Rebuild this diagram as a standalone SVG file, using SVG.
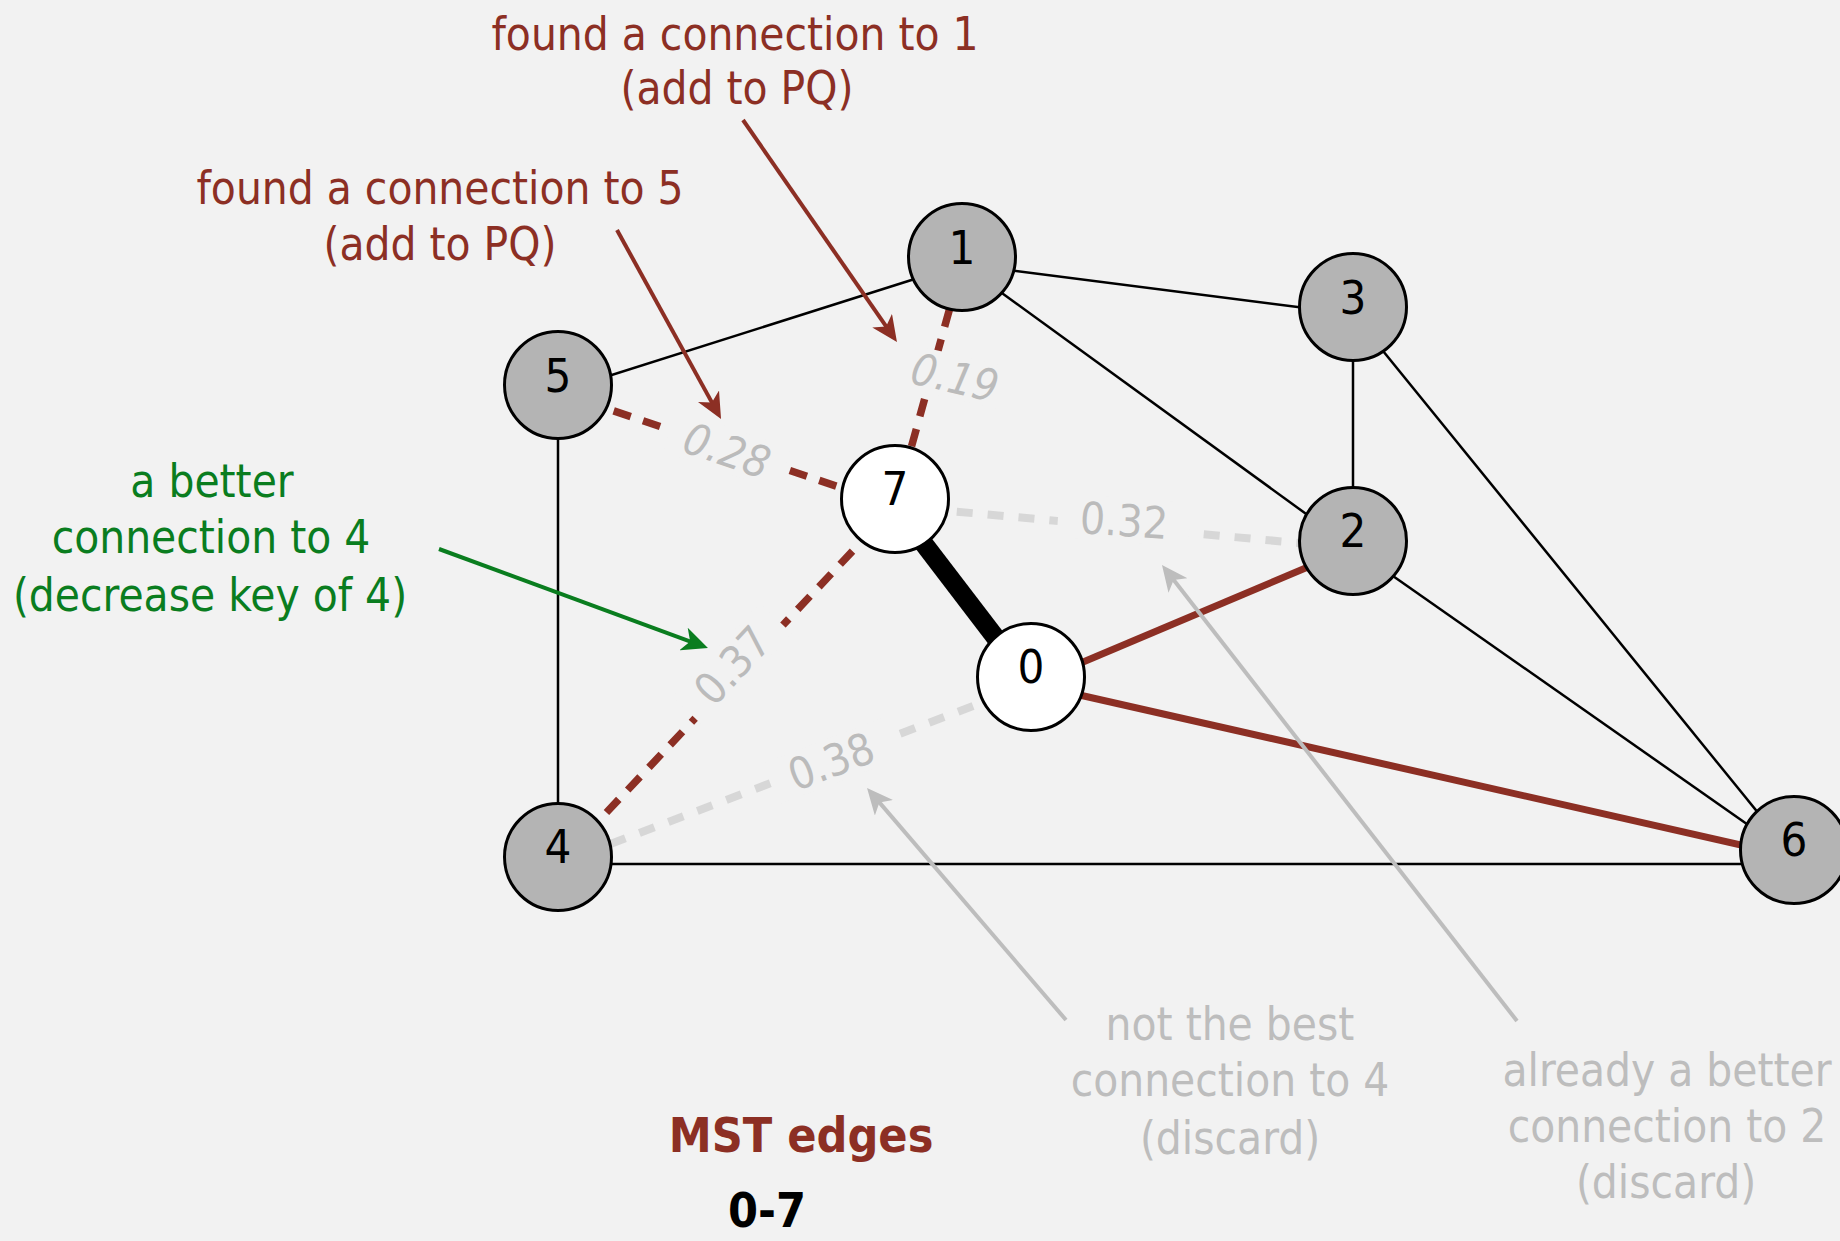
<svg xmlns="http://www.w3.org/2000/svg" width="1840" height="1241" viewBox="0 0 1840 1241">
<style>
.e{stroke:#000;stroke-width:2.5;fill:none}
.mst{stroke:#000;stroke-width:19}
.red{stroke:#8c2f24;stroke-width:7}
.rd{stroke:#8c2f24;stroke-width:7.5;stroke-dasharray:18 13}
.gd{stroke:#d7d7d7;stroke-width:8;stroke-dasharray:16 15}
.lb{fill:#f2f2f2}
.node circle{stroke:#000;stroke-width:3}
.g{fill:#b4b4b4}
.w{fill:#fff}
text{font-family:'DejaVu Sans Condensed','DejaVu Sans',sans-serif;font-stretch:condensed}
.nl{font-size:47px;text-anchor:middle;fill:#000}
.wl{font-size:44px;fill:#bbbbbb;text-anchor:middle}
.ann{font-size:45.5px;text-anchor:middle}
.bd{font-size:48px;font-weight:bold}
.tr{fill:#8c2f24}
.tg{fill:#0a7d1f}
.tq{fill:#bdbdbd}
.ar{stroke:#8c2f24;stroke-width:4;fill:none;marker-end:url(#mr)}
.ag{stroke:#0a7d1f;stroke-width:4;fill:none;marker-end:url(#mg)}
.aq{stroke:#bdbdbd;stroke-width:4;fill:none;marker-end:url(#mq)}
</style>
<defs>
<marker id="mr" markerUnits="userSpaceOnUse" markerWidth="26" markerHeight="24" refX="11" refY="12" orient="auto"><path d="M0,0 L26,12 L0,24 L7,12 Z" fill="#8c2f24"/></marker>
<marker id="mg" markerUnits="userSpaceOnUse" markerWidth="26" markerHeight="24" refX="11" refY="12" orient="auto"><path d="M0,0 L26,12 L0,24 L7,12 Z" fill="#0a7d1f"/></marker>
<marker id="mq" markerUnits="userSpaceOnUse" markerWidth="26" markerHeight="24" refX="11" refY="12" orient="auto"><path d="M0,0 L26,12 L0,24 L7,12 Z" fill="#bdbdbd"/></marker>
</defs>
<rect width="1840" height="1241" fill="#f2f2f2"/>
<g id="connectors">
<line class="e" x1="558" y1="392" x2="962" y2="264"/>
<line class="e" x1="962" y1="264" x2="1353" y2="314"/>
<line class="e" x1="962" y1="264" x2="1353" y2="548"/>
<line class="e" x1="1353" y1="314" x2="1353" y2="548"/>
<line class="e" x1="1353" y1="314" x2="1794" y2="857"/>
<line class="e" x1="1353" y1="548" x2="1794" y2="857"/>
<line class="e" x1="558" y1="392" x2="558" y2="864"/>
<line class="e" x1="558" y1="864" x2="1794" y2="864"/>
<line class="red" x1="1031" y1="684" x2="1353" y2="548"/>
<line class="red" x1="1031" y1="684" x2="1794" y2="857"/>
<line class="rd" x1="895" y1="506" x2="962" y2="264"/>
<line class="rd" x1="895" y1="506" x2="558" y2="392"/>
<line class="rd" x1="895" y1="506" x2="558" y2="864"/>
<line class="gd" x1="895" y1="506" x2="1353" y2="548"/>
<line class="gd" x1="1031" y1="684" x2="558" y2="864"/>
<line class="mst" x1="895" y1="506" x2="1031" y2="684"/>
</g>
<g id="weights">
<g transform="translate(955,377) rotate(13)"><rect class="lb" x="-54" y="-22" width="108" height="44"/><text class="wl" y="16" font-style="italic">0.19</text></g>
<g transform="translate(727,450) rotate(18.7)"><rect class="lb" x="-60" y="-22" width="120" height="44"/><text class="wl" y="16" font-style="italic">0.28</text></g>
<g transform="translate(732,665) rotate(-46.7)"><rect class="lb" x="-64" y="-22" width="128" height="44"/><text class="wl" y="16">0.37</text></g>
<g transform="translate(1124,520) rotate(4)"><rect class="lb" x="-66" y="-22" width="132" height="44"/><text class="wl" y="16">0.32</text></g>
<g transform="translate(831,761) rotate(-20.8)"><rect class="lb" x="-64" y="-22" width="128" height="44"/><text class="wl" y="16">0.38</text></g>
</g>
<g id="node-1" class="node"><circle class="g" cx="962" cy="257" r="53.5"/><text class="nl" x="962" y="264">1</text></g>
<g id="node-3" class="node"><circle class="g" cx="1353" cy="307" r="53.5"/><text class="nl" x="1353" y="314">3</text></g>
<g id="node-5" class="node"><circle class="g" cx="558" cy="385" r="53.5"/><text class="nl" x="558" y="392">5</text></g>
<g id="node-7" class="node"><circle class="w" cx="895" cy="499" r="53.5"/><text class="nl" x="895" y="505">7</text></g>
<g id="node-2" class="node"><circle class="g" cx="1353" cy="541" r="53.5"/><text class="nl" x="1353" y="547">2</text></g>
<g id="node-0" class="node"><circle class="w" cx="1031" cy="677" r="53.5"/><text class="nl" x="1031" y="683">0</text></g>
<g id="node-4" class="node"><circle class="g" cx="558" cy="857" r="53.5"/><text class="nl" x="558" y="863">4</text></g>
<g id="node-6" class="node"><circle class="g" cx="1794" cy="850" r="53.5"/><text class="nl" x="1794" y="856">6</text></g>
<g id="arrows">
<line class="ar" x1="743" y1="120" x2="888.4" y2="329.7"/>
<line class="ar" x1="617" y1="230" x2="713.8" y2="405.9"/>
<line class="ag" x1="439" y1="549" x2="693.9" y2="642.8"/>
<line class="aq" x1="1066" y1="1020" x2="876.8" y2="799.4"/>
<line class="aq" x1="1517" y1="1021" x2="1171.2" y2="576.8"/>
</g>
<g id="annotations">
<text class="ann tr" x="735" y="50">found a connection to 1</text>
<text class="ann tr" x="737" y="104">(add to PQ)</text>
<text class="ann tr" x="440" y="204">found a connection to 5</text>
<text class="ann tr" x="440" y="260">(add to PQ)</text>
<text class="ann tg" x="212" y="497">a better</text>
<text class="ann tg" x="211" y="553">connection to 4</text>
<text class="ann tg" x="210" y="611">(decrease key of 4)</text>
<text class="ann tq" x="1230" y="1040">not the best</text>
<text class="ann tq" x="1230" y="1096">connection to 4</text>
<text class="ann tq" x="1230" y="1154">(discard)</text>
<text class="ann tq" x="1667" y="1086">already a better</text>
<text class="ann tq" x="1667" y="1142">connection to 2</text>
<text class="ann tq" x="1666" y="1198">(discard)</text>
<text class="ann bd tr" x="801" y="1152">MST edges</text>
<text class="ann bd" x="767" y="1227">0-7</text>
</g>
</svg>
